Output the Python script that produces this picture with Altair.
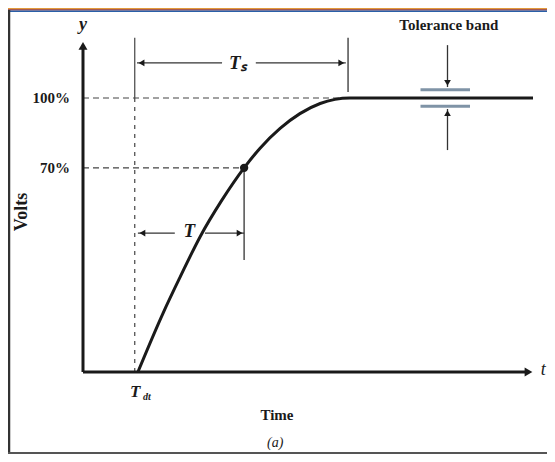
import altair as alt
import pandas as pd

# ---- data (time units, percent of final value) ----
curve_t = [12.2, 17.8, 21.6, 26.0, 30.9, 35.8, 39.3, 43.8, 48.2, 52.7, 56.0, 59.3, 100]
curve_v = [0, 21.5, 34.7, 49.3, 62.8, 74.5, 81.6, 88.9, 94.3, 98.0, 99.5, 100, 100]

level_names = ["100%", "70%"]
level_values = [100, 74.5]
level_ends = [58.9, 35.8]

dead_time = 11.5
settle_time = 58.9
tau_time = 35.8
tol_upper = 103
tol_lower = 97
tol_x = [75, 86]
tol_arrow_x = 81

X_DOM = [-16.667, 103.111]
Y_DOM = [-29.93, 132.85]
W, H = 539, 446

FONT = "Liberation Serif"
INK = "#1a1a1a"

xs = alt.Scale(domain=X_DOM, nice=False, zero=False)
ys = alt.Scale(domain=Y_DOM, nice=False, zero=False)


def seg_df(rows):
    return pd.DataFrame(rows, columns=["x", "x2", "y", "y2"])


def rules(df, **kw):
    return alt.Chart(df).mark_rule(**kw).encode(
        x=alt.X("x:Q", scale=xs, axis=None),
        x2="x2:Q",
        y=alt.Y("y:Q", scale=ys, axis=None),
        y2="y2:Q",
    )


def heads(df, shape, size=70):
    return alt.Chart(df).mark_point(shape=shape, filled=True, size=size, color=INK, opacity=1).encode(
        x=alt.X("x:Q", scale=xs, axis=None),
        y=alt.Y("y:Q", scale=ys, axis=None),
    )


def texts(df, **kw):
    return alt.Chart(df).mark_text(font=FONT, color=INK, **kw).encode(
        x=alt.X("x:Q", scale=xs, axis=None),
        y=alt.Y("y:Q", scale=ys, axis=None),
        text="t:N",
    )


# axes
axes = rules(seg_df([[0, 0, 0, 119], [0, 99, 0, 0]]), color=INK, strokeWidth=3)
axis_heads_up = heads(pd.DataFrame({"x": [0], "y": [119]}), "triangle-up", 80)
axis_heads_right = heads(pd.DataFrame({"x": [99], "y": [0]}), "triangle-right", 80)

# dashed level lines
levels = pd.DataFrame({"x": [0, 0], "x2": level_ends, "y": level_values, "y2": level_values})
level_lines = rules(levels, color="#444", strokeWidth=1.2, strokeDash=[6, 4])

# dead-time vertical
dt_dash = rules(seg_df([[dead_time, dead_time, 0, 100]]), color="#444", strokeWidth=1.2, strokeDash=[4, 5])
dt_solid = rules(seg_df([[dead_time, dead_time, 100, 122]]), color="#444", strokeWidth=1.2)

# Ts dimension
ts_lines = rules(seg_df([[settle_time, settle_time, 102.2, 122],
                         [12.0, 30.9, 112.8, 112.8],
                         [38.4, 58.4, 112.8, 112.8]]), color="#333", strokeWidth=1.3)
ts_l = heads(pd.DataFrame({"x": [13.0], "y": [112.8]}), "triangle-left", 45)
ts_r = heads(pd.DataFrame({"x": [57.4], "y": [112.8]}), "triangle-right", 45)

# T dimension
t_lines = rules(seg_df([[tau_time, tau_time, 40.9, 74.5],
                        [12.2, 20.4, 50.7, 50.7],
                        [27.1, 35.8, 50.7, 50.7]]), color="#333", strokeWidth=1.3)
t_l = heads(pd.DataFrame({"x": [13.2], "y": [50.7]}), "triangle-left", 45)
t_r = heads(pd.DataFrame({"x": [34.8], "y": [50.7]}), "triangle-right", 45)

# tolerance band
tol = rules(seg_df([[tol_x[0], tol_x[1], tol_upper, tol_upper],
                    [tol_x[0], tol_x[1], tol_lower, tol_lower]]), color="#7f93a6", strokeWidth=3)
tol_arrows = rules(seg_df([[tol_arrow_x, tol_arrow_x, 104, 119.3],
                           [tol_arrow_x, tol_arrow_x, 81, 96]]), color="#333", strokeWidth=1.3)
tol_down = heads(pd.DataFrame({"x": [tol_arrow_x], "y": [105.5]}), "triangle-down", 45)
tol_up = heads(pd.DataFrame({"x": [tol_arrow_x], "y": [94.5]}), "triangle-up", 45)

# response curve
curve = alt.Chart(pd.DataFrame({"x": curve_t, "y": curve_v})).mark_line(
    color=INK, strokeWidth=3, interpolate="monotone"
).encode(x=alt.X("x:Q", scale=xs, axis=None), y=alt.Y("y:Q", scale=ys, axis=None))

dot = alt.Chart(pd.DataFrame({"x": [tau_time], "y": [74.5]})).mark_point(
    filled=True, size=70, color=INK, opacity=1
).encode(x=alt.X("x:Q", scale=xs, axis=None), y=alt.Y("y:Q", scale=ys, axis=None))

# labels
level_labels = texts(pd.DataFrame({"x": [-2.9, -2.9], "y": level_values, "t": level_names}),
                     align="right", baseline="middle", fontSize=15, fontWeight="bold")
volts = texts(pd.DataFrame({"x": [-13.6], "y": [58.4], "t": ["Volts"]}),
              angle=270, align="center", baseline="middle", fontSize=18, fontWeight="bold")
ylab = texts(pd.DataFrame({"x": [0], "y": [126.6], "t": ["y"]}),
             align="center", baseline="middle", fontSize=18, fontStyle="italic", fontWeight="bold")
tlab = texts(pd.DataFrame({"x": [102.3], "y": [0.7], "t": ["t"]}),
             align="center", baseline="middle", fontSize=18, fontStyle="italic")
ts_lab = texts(pd.DataFrame({"x": [34.4], "y": [112.8], "t": ["Tₛ"]}),
               align="center", baseline="middle", fontSize=19, fontStyle="italic", fontWeight="bold")
tau_lab = texts(pd.DataFrame({"x": [23.6], "y": [51.5], "t": ["T"]}),
                align="center", baseline="middle", fontSize=19, fontStyle="italic", fontWeight="bold")
dt_lab = texts(pd.DataFrame({"x": [11.6], "y": [-7.4], "t": ["T"]}),
               align="center", baseline="middle", fontSize=17, fontStyle="italic", fontWeight="bold")
dt_sub = texts(pd.DataFrame({"x": [14.2], "y": [-9.2], "t": ["dt"]}),
               align="center", baseline="middle", fontSize=10, fontStyle="italic", fontWeight="bold")
tol_lab = texts(pd.DataFrame({"x": [81.3], "y": [126.6], "t": ["Tolerance band"]}),
                align="center", baseline="middle", fontSize=15, fontWeight="bold")
time_lab = texts(pd.DataFrame({"x": [43.1], "y": [-15.7], "t": ["Time"]}),
                 align="center", baseline="middle", fontSize=15, fontWeight="bold")
a_lab = texts(pd.DataFrame({"x": [42.7], "y": [-25.9], "t": ["(a)"]}),
              align="center", baseline="middle", fontSize=14, fontStyle="italic")

# frame (decoration)
frame_top_o = alt.Chart(pd.DataFrame({"a": [0]})).mark_rule(color="#e39a3a", strokeWidth=1.5).encode(
    x=alt.value(0), x2=alt.value(W), y=alt.value(0.5))
frame_top_r = alt.Chart(pd.DataFrame({"a": [0]})).mark_rule(color="#8a2a2a", strokeWidth=1.2).encode(
    x=alt.value(0), x2=alt.value(W), y=alt.value(1.8))
frame_top_b = alt.Chart(pd.DataFrame({"a": [0]})).mark_rule(color="#2a5fa8", strokeWidth=1.5).encode(
    x=alt.value(0), x2=alt.value(W), y=alt.value(3.2))
frame_left = alt.Chart(pd.DataFrame({"a": [0]})).mark_rule(color="#333", strokeWidth=2.5).encode(
    x=alt.value(1), y=alt.value(2), y2=alt.value(H))
frame_bottom = alt.Chart(pd.DataFrame({"a": [0]})).mark_rule(color="#555", strokeWidth=2).encode(
    x=alt.value(0), x2=alt.value(W), y=alt.value(H - 1))

chart = alt.layer(
    frame_top_o, frame_top_r, frame_top_b, frame_left, frame_bottom,
    level_lines, dt_dash, dt_solid, ts_lines, ts_l, ts_r, t_lines, t_l, t_r,
    tol, tol_arrows, tol_down, tol_up,
    axes, axis_heads_up, axis_heads_right, curve, dot,
    level_labels, volts, ylab, tlab, ts_lab, tau_lab, dt_lab, dt_sub, tol_lab, time_lab, a_lab,
).properties(
    width=W, height=H, padding=0, autosize=alt.AutoSizeParams(type="none"), background="white"
).configure_view(stroke=None)

chart.save("out.html", embed_options={"renderer": "svg", "actions": False})
